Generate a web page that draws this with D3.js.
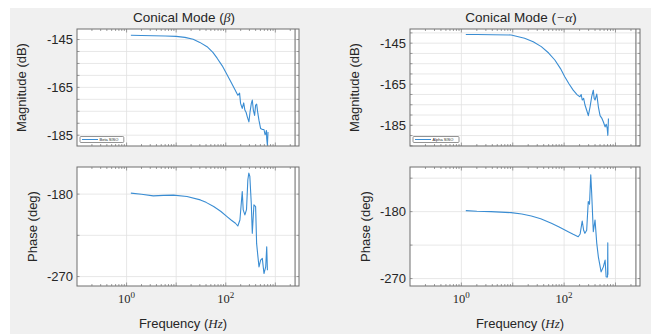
<!DOCTYPE html>
<html>
<head>
<meta charset="utf-8">
<script src="https://cdn.jsdelivr.net/npm/d3@7"></script>
<style>
  body { margin: 0; background: #fff; }
  text { font-family: "Liberation Sans", Arial, sans-serif; fill: #262626; }
  .serif { font-family: "Liberation Serif", "DejaVu Serif", serif; }
</style>
</head>
<body>
<div id="chart"></div>
<script>
// magnitude / phase traces (freq in Hz)
const betaMagFreq = [1.22, 2, 3.5, 6, 10, 15, 22, 30, 42, 55, 67, 85, 100, 125, 150, 175, 190, 199, 215, 230, 243, 258, 272, 293, 310, 328, 343, 360, 382, 400, 420, 445, 467, 505, 550, 590, 620, 639, 660, 670, 692, 711];
const betaMag = [-143.2, -143.3, -143.4, -143.5, -143.7, -144.1, -144.9, -146.2, -148.0, -150.4, -152.8, -156.0, -158.7, -162.4, -165.6, -168.3, -167.4, -171.7, -173.8, -171.5, -174.5, -175.5, -177.3, -179.4, -175.0, -171.7, -170.3, -174.5, -176.7, -172.4, -172.0, -176.0, -178.7, -182.2, -182.6, -182.6, -184.8, -184.3, -183.0, -186.4, -189.2, -183.6];

const alphaMagFreq = [1.22, 2, 4, 9.3, 17, 25, 36, 50, 66, 85, 103, 125, 150, 180, 203, 215, 225, 240, 254, 275, 296, 320, 344, 370, 385, 400, 432, 464, 501, 540, 582, 628, 660, 690, 710, 729];
const alphaMag = [-140.8, -140.8, -140.9, -141.0, -142.6, -144.3, -146.7, -149.8, -153.2, -157.4, -161.4, -164.9, -167.9, -170.2, -171.1, -170.0, -172.7, -171.9, -175.0, -177.7, -180.3, -176.0, -171.1, -167.9, -172.0, -172.7, -169.8, -176.0, -180.3, -181.5, -183.4, -185.8, -184.5, -186.5, -189.9, -181.7];

const betaPhaseFreq = [1.22, 2, 3.46, 5.5, 8.8, 16.5, 30.7, 40, 57, 70, 80, 106, 130, 157, 175, 193, 215, 225, 243, 262, 279, 292, 306, 327, 343, 370, 400, 419, 446, 468, 505, 546, 590, 639, 670, 692];
const betaPhase = [-178.9, -180.2, -181.9, -181.4, -181.1, -182.6, -186.3, -189.0, -193.6, -196.8, -199.0, -204.6, -208.5, -211.8, -214.8, -208.2, -177.1, -197.2, -202.7, -197.0, -164.3, -157.0, -160.7, -189.9, -222.8, -191.7, -193.6, -233.8, -248.5, -259.5, -252.1, -250.2, -266.7, -259.5, -237.5, -263.1];

const alphaPhaseFreq = [1.22, 2, 3.77, 9.3, 15, 23, 35, 56.5, 80, 120, 150, 188, 205, 225, 240, 254, 275, 295, 312, 330, 344, 370, 400, 432, 464, 525, 580, 628, 658, 700, 708, 712];
const alphaPhase = [-178.7, -179.5, -180, -181.4, -183.2, -185.8, -189.5, -195.7, -200.6, -207, -210.5, -213.8, -210, -192.6, -205, -209.2, -205, -166.5, -170, -130.5, -155.2, -207, -191.2, -222.7, -240.8, -261, -254.3, -245.2, -267.8, -268, -222, -265];

const magTicks = [-145, -165, -185];
const phaseTicks = [-180, -270];
const freqTicks = [1, 100];
const nyquist = 2500;

const width = 651, height = 334;
const svg = d3.select("#chart").append("svg")
  .attr("width", width).attr("height", height);

// figure background
svg.append("rect").attr("x", 10).attr("y", 8)
  .attr("width", width - 10).attr("height", height - 8)
  .attr("fill", "#f0f0f0");

const lineColor = "#3a8dd3";

function drawAxes(box, yDomain, yTicks, gridStep, freq, vals, opts) {
  const x = d3.scaleLog().domain([0.1, 3000]).range([box.x0, box.x1]);
  const y = d3.scaleLinear().domain(yDomain).range([box.y1, box.y0]);
  const g = svg.append("g");

  g.append("rect").attr("x", box.x0).attr("y", box.y0)
    .attr("width", box.x1 - box.x0).attr("height", box.y1 - box.y0)
    .attr("fill", "#fff");

  // grid
  const yGrid = d3.range(Math.ceil(yDomain[0] / gridStep) * gridStep, yDomain[1], gridStep);
  g.selectAll(".gy").data(yGrid).enter().append("line")
    .attr("x1", box.x0).attr("x2", box.x1)
    .attr("y1", d => y(d)).attr("y2", d => y(d))
    .attr("stroke", "#e2e2e2").attr("stroke-width", 0.8);
  const decades = [1, 10, 100, 1000];
  g.selectAll(".gx").data(decades).enter().append("line")
    .attr("x1", d => x(d)).attr("x2", d => x(d))
    .attr("y1", box.y0).attr("y2", box.y1)
    .attr("stroke", "#e2e2e2").attr("stroke-width", 0.8);

  // ticks (inward, all sides)
  const minor = [];
  [0.1, 1, 10, 100, 1000].forEach(dd => {
    for (let k = 2; k <= 9; k++) if (dd * k < 3000) minor.push(dd * k);
  });
  const tickCol = "#777";
  [box.y1, box.y0].forEach((yy, i) => {
    const dir = i === 0 ? -1 : 1;
    g.selectAll(null).data(minor).enter().append("line")
      .attr("x1", d => x(d)).attr("x2", d => x(d))
      .attr("y1", yy).attr("y2", yy + dir * 2)
      .attr("stroke", tickCol).attr("stroke-width", 0.7);
    g.selectAll(null).data(decades).enter().append("line")
      .attr("x1", d => x(d)).attr("x2", d => x(d))
      .attr("y1", yy).attr("y2", yy + dir * 3.5)
      .attr("stroke", tickCol).attr("stroke-width", 0.7);
  });
  [box.x0, box.x1].forEach((xx, i) => {
    const dir = i === 0 ? 1 : -1;
    g.selectAll(null).data(yGrid).enter().append("line")
      .attr("x1", xx).attr("x2", xx + dir * 2.5)
      .attr("y1", d => y(d)).attr("y2", d => y(d))
      .attr("stroke", tickCol).attr("stroke-width", 0.7);
  });

  // nyquist line
  g.append("line").attr("x1", x(nyquist)).attr("x2", x(nyquist))
    .attr("y1", box.y0).attr("y2", box.y1)
    .attr("stroke", "#555").attr("stroke-width", 0.9);

  // trace
  const pts = freq.map((f, i) => [f, vals[i]]);
  g.append("path").datum(pts)
    .attr("fill", "none").attr("stroke", lineColor).attr("stroke-width", 1.1)
    .attr("stroke-linejoin", "round")
    .attr("d", d3.line().x(d => x(d[0])).y(d => y(d[1])));

  // frame
  g.append("rect").attr("x", box.x0).attr("y", box.y0)
    .attr("width", box.x1 - box.x0).attr("height", box.y1 - box.y0)
    .attr("fill", "none").attr("stroke", "#6e6e6e").attr("stroke-width", 1);

  // y tick labels
  g.selectAll(".yl").data(yTicks).enter().append("text")
    .attr("x", box.x0 - 4).attr("y", d => y(d))
    .attr("dy", "0.35em").attr("text-anchor", "end")
    .attr("font-size", 13).text(d => d);

  if (opts.xLabels) {
    freqTicks.forEach(f => {
      const t = g.append("text").attr("class", "serif")
        .attr("x", x(f)).attr("y", box.y1 + 17)
        .attr("text-anchor", "middle").attr("font-size", 12.5);
      t.append("tspan").text("10");
      t.append("tspan").attr("dy", -5).attr("font-size", 9).text(Math.log10(f));
    });
  }
  return { x, y, g };
}

function legend(box, label) {
  const lg = svg.append("g").attr("transform", `translate(${box.x0 + 3},${box.y1 - 9.5})`);
  lg.append("rect").attr("width", label.length * 2.2 + 24).attr("height", 6)
    .attr("rx", 1).attr("fill", "#fff").attr("stroke", "#777").attr("stroke-width", 0.8);
  lg.append("line").attr("x1", 2).attr("x2", 18).attr("y1", 3).attr("y2", 3)
    .attr("stroke", lineColor).attr("stroke-width", 1);
  lg.append("text").attr("x", 19.5).attr("y", 4.6).attr("font-size", 4)
    .attr("fill", "#666").text(label);
}

function panel(x0, x1, cfg) {
  const top = { x0, x1, y0: 29, y1: 146 };
  const bot = { x0, x1, y0: 167, y1: 286 };
  drawAxes(top, cfg.magDomain, magTicks, 5, cfg.magF, cfg.mag, {});
  legend(top, cfg.legend);
  drawAxes(bot, cfg.phaseDomain, phaseTicks, 45, cfg.phF, cfg.ph, { xLabels: true });

  const cx = (x0 + x1) / 2;
  const title = svg.append("text").attr("x", cx - 4).attr("y", 22)
    .attr("text-anchor", "middle").attr("font-size", 13.5);
  title.append("tspan").text("Conical Mode (");
  title.append("tspan").attr("class", "serif").attr("font-style", "italic").text(cfg.sym);
  title.append("tspan").text(")");

  const fl = svg.append("text").attr("x", cx - 5).attr("y", 328)
    .attr("text-anchor", "middle").attr("font-size", 13);
  fl.append("tspan").text("Frequency (");
  fl.append("tspan").attr("class", "serif").attr("font-style", "italic").text("Hz");
  fl.append("tspan").text(")");

  svg.append("text").attr("transform", `translate(${x0 - 51},${(top.y0 + top.y1) / 2}) rotate(-90)`)
    .attr("text-anchor", "middle").attr("font-size", 13).text("Magnitude (dB)");
  svg.append("text").attr("transform", `translate(${x0 - 40},${(bot.y0 + bot.y1) / 2}) rotate(-90)`)
    .attr("text-anchor", "middle").attr("font-size", 13).text("Phase (deg)");
}

panel(77, 299, {
  magDomain: [-189.5, -140.6], phaseDomain: [-280.3, -150.4],
  magF: betaMagFreq, mag: betaMag, phF: betaPhaseFreq, ph: betaPhase,
  sym: "β", legend: "Beta SISO"
});
panel(410, 640, {
  magDomain: [-195.1, -138.1], phaseDomain: [-280, -120],
  magF: alphaMagFreq, mag: alphaMag, phF: alphaPhaseFreq, ph: alphaPhase,
  sym: "−α", legend: "Alpha SISO"
});
</script>
</body>
</html>
